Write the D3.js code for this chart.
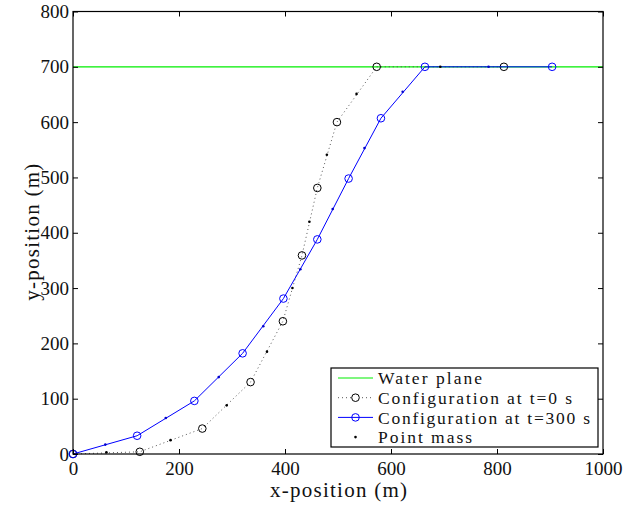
<!DOCTYPE html>
<html><head><meta charset="utf-8">
<script src="https://cdn.jsdelivr.net/npm/d3@7"></script>
<style>body{margin:0;background:#fff}svg{display:block}</style>
</head><body><svg id="c" width="636" height="506"></svg>
<script>
const xTicks = [0, 200, 400, 600, 800, 1000];
const yTicks = [0, 100, 200, 300, 400, 500, 600, 700, 800];
const waterLevel = 700;
const config0X = [0, 126, 244, 335, 396, 432, 461, 498, 573, 813];
const config0Y = [0, 4, 46, 130, 240, 359, 481, 600, 700, 700];
const config300X = [0, 121, 229, 320, 397, 461, 520, 581, 664, 904];
const config300Y = [0, 33, 96, 182, 281, 388, 498, 607, 700, 700];
const mass0X = [63, 184, 290, 366, 414, 446, 479, 535, 693];
const mass0Y = [3, 25, 88, 185, 300, 420, 541, 651, 700];
const mass300X = [61, 175, 275, 359, 429, 490, 550, 622, 784];
const mass300Y = [17, 65, 139, 231, 334, 443, 553, 655, 700];
const legendLabels = ["Water plane", "Configuration at t=0 s", "Configuration at t=300 s", "Point mass"];
const legendWidths = [104, 194, 212, 94];

const FONT = '"Liberation Serif", "Times New Roman", Times, serif';
const svg = d3.select("#c");
const L = 73, R = 603, T = 11.5, B = 454;
const x = d3.scaleLinear().domain([0, 1000]).range([L, R]);
const y = d3.scaleLinear().domain([0, 800]).range([B, T]);

const plot = svg.append("g");
plot.append("line").attr("x1", x(0)).attr("x2", x(1000)).attr("y1", y(waterLevel)).attr("y2", y(waterLevel))
  .attr("stroke", "#00ee00").attr("stroke-width", 1.2);

const line = d3.line().x(d => x(d[0])).y(d => y(d[1]));
const c0 = config0X.map((v, i) => [v, config0Y[i]]);
const c3 = config300X.map((v, i) => [v, config300Y[i]]);
plot.append("path").attr("d", line(c0)).attr("fill", "none").attr("stroke", "#444")
  .attr("stroke-width", 0.9).attr("stroke-dasharray", "1,3");
plot.selectAll("circle.c0").data(c0).join("circle").attr("class", "c0")
  .attr("cx", d => x(d[0])).attr("cy", d => y(d[1])).attr("r", 3.8)
  .attr("fill", "none").attr("stroke", "#000").attr("stroke-width", 1);
plot.append("path").attr("d", line(c3)).attr("fill", "none").attr("stroke", "#0000ff").attr("stroke-width", 1);
plot.selectAll("circle.c3").data(c3).join("circle").attr("class", "c3")
  .attr("cx", d => x(d[0])).attr("cy", d => y(d[1])).attr("r", 3.8)
  .attr("fill", "none").attr("stroke", "#0000ff").attr("stroke-width", 1);
plot.selectAll("circle.m0").data(mass0X.map((v, i) => [v, mass0Y[i]])).join("circle").attr("class", "m0")
  .attr("cx", d => x(d[0])).attr("cy", d => y(d[1])).attr("r", 1.3).attr("fill", "#000");
plot.selectAll("circle.m3").data(mass300X.map((v, i) => [v, mass300Y[i]])).join("circle").attr("class", "m3")
  .attr("cx", d => x(d[0])).attr("cy", d => y(d[1])).attr("r", 1.3).attr("fill", "#0000cc");

const ax = svg.append("g");
ax.append("g").attr("transform", `translate(0,${B})`)
  .call(d3.axisBottom(x).tickValues(xTicks).tickSize(-5).tickPadding(7.5).tickFormat(d3.format("d")));
ax.append("g").attr("transform", `translate(0,${T})`)
  .call(d3.axisTop(x).tickValues(xTicks).tickSize(-5).tickFormat(""));
ax.append("g").attr("transform", `translate(${L},0)`)
  .call(d3.axisLeft(y).tickValues(yTicks).tickSize(-5).tickPadding(4).tickFormat(d3.format("d")));
ax.append("g").attr("transform", `translate(${R},0)`)
  .call(d3.axisRight(y).tickValues(yTicks).tickSize(-5).tickFormat(""));
ax.selectAll(".domain").remove();
ax.selectAll(".tick line").attr("stroke", "#000").attr("stroke-width", 1);
ax.selectAll("text").attr("fill", "#111").style("font-family", FONT).style("font-size", "19px");
ax.append("rect").attr("x", L).attr("y", T).attr("width", R - L).attr("height", B - T)
  .attr("fill", "none").attr("stroke", "#000").attr("stroke-width", 1.2);

svg.append("text").attr("x", (L + R) / 2 - 68).attr("y", 497)
  .attr("textLength", 137).attr("lengthAdjust", "spacing")
  .attr("fill", "#111").style("font-family", FONT).style("font-size", "21px").text("x-position (m)");
svg.append("text").attr("transform", `translate(39,${(T + B) / 2 + 68}) rotate(-90)`)
  .attr("textLength", 137).attr("lengthAdjust", "spacing")
  .attr("fill", "#111").style("font-family", FONT).style("font-size", "21px").text("y-position (m)");

const lg = svg.append("g");
lg.append("rect").attr("x", 331).attr("y", 368).attr("width", 267).attr("height", 79)
  .attr("fill", "#fff").attr("stroke", "#000").attr("stroke-width", 1.2);
const rowY = i => 378 + i * 19.7;
const sx1 = 338, sx2 = 373, sm = 355.5;
lg.append("line").attr("x1", sx1).attr("x2", sx2).attr("y1", rowY(0)).attr("y2", rowY(0)).attr("stroke", "#00ee00").attr("stroke-width", 1.2);
lg.append("line").attr("x1", sx1).attr("x2", sx2).attr("y1", rowY(1)).attr("y2", rowY(1)).attr("stroke", "#444").attr("stroke-width", 0.9).attr("stroke-dasharray", "1,3");
lg.append("circle").attr("cx", sm).attr("cy", rowY(1)).attr("r", 3.8).attr("fill", "#fff").attr("stroke", "#000");
lg.append("line").attr("x1", sx1).attr("x2", sx2).attr("y1", rowY(2)).attr("y2", rowY(2)).attr("stroke", "#0000ff").attr("stroke-width", 1);
lg.append("circle").attr("cx", sm).attr("cy", rowY(2)).attr("r", 3.8).attr("fill", "none").attr("stroke", "#0000ff");
lg.append("circle").attr("cx", sm).attr("cy", rowY(3)).attr("r", 1.3).attr("fill", "#000");
lg.selectAll("text.lt").data(legendLabels).join("text").attr("class", "lt")
  .attr("x", 378).attr("y", (d, i) => rowY(i)).attr("dy", "0.35em").attr("fill", "#111")
  .attr("textLength", (d, i) => legendWidths[i]).attr("lengthAdjust", "spacing")
  .style("font-family", FONT).style("font-size", "17.5px").text(d => d);
</script></body></html>
